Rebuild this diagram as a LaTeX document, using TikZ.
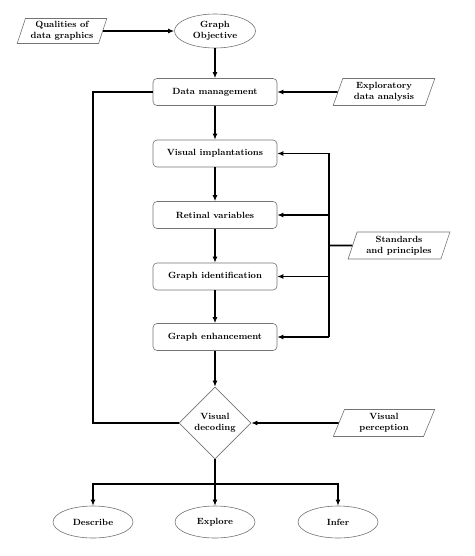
\documentclass[tikz,border=0pt]{standalone}
\usetikzlibrary{shapes.geometric,arrows.meta}
\begin{document}
\begin{tikzpicture}[x=1pt,y=-1pt,
  font=\small\bfseries,
  box/.style={draw=black!55,line width=0.6pt,rounded corners=4pt,minimum width=124pt,minimum height=27pt,align=center},
  para/.style={draw=black!55,line width=0.6pt,trapezium,trapezium left angle=71,trapezium right angle=109,trapezium stretches=true,minimum width=102pt,minimum height=27pt,inner sep=1pt,align=center},
  ell/.style={draw=black!55,line width=0.6pt,ellipse,minimum width=80pt,minimum height=32pt,inner sep=0pt,align=center},
  dia/.style={draw=black!55,line width=0.6pt,diamond,aspect=1,minimum width=72pt,minimum height=72pt,inner sep=0pt,align=center},
  conn/.style={line width=1.9pt},
  arr/.style={line width=1.9pt,-{Latex[length=6pt,width=5pt]}}]
\useasboundingbox (0,0) rectangle (474,556);
\node[para,minimum width=90pt,minimum height=25pt] (qd) at (62,31) {Qualities of\\data graphics};
\node[ell,minimum width=81pt,minimum height=34pt] (go) at (215,31) {Graph\\Objective};
\node[box] (dm) at (215,92) {Data management};
\node[para] (eda) at (384,92) {Exploratory\\data analysis};
\node[box] (vi) at (215,153.5) {Visual implantations};
\node[box] (rv) at (215,215) {Retinal variables};
\node[box] (gi) at (215,276.5) {Graph identification};
\node[box] (ge) at (215,337) {Graph enhancement};
\node[para] (sp) at (399,245.5) {Standards\\and principles};
\node[dia] (vd) at (215,423) {Visual\\decoding};
\node[para] (vp) at (384,423) {Visual\\perception};
\node[ell] (de) at (93,522) {Describe};
\node[ell] (ex) at (215,522) {Explore};
\node[ell] (in) at (338,522) {Infer};
\coordinate (bus) at (329,245.5);
\coordinate (lft) at (93,92);
\coordinate (split) at (215,484);
% top
\draw[arr] (qd) -- (go);
\draw[arr] (go) -- (dm);
\draw[arr] (eda) -- (dm);
\draw[arr] (dm) -- (vi);
\draw[arr] (vi) -- (rv);
\draw[arr] (rv) -- (gi);
\draw[arr] (gi) -- (ge);
\draw[arr] (ge) -- (vd);
% standards bus
\draw[conn] (sp.west) -- (bus);
\draw[conn] (vi.east -| bus) -- (ge.east -| bus);
\draw[arr] (vi.east -| bus) -- (vi.east);
\draw[arr] (rv.east -| bus) -- (rv.east);
\draw[arr] (gi.east -| bus) -- (gi.east);
\draw[arr] (ge.east -| bus) -- (ge.east);
% loop
\draw[conn,line join=miter] (dm.west) -- (lft) |- (vd.west);
\draw[arr] (vp) -- (vd);
% bottom
\draw[conn] (vd.south) -- (split);
\draw[arr,line join=miter] (split) -| (de.north);
\draw[arr,line join=miter] (split) -| (in.north);
\draw[arr] (split) -- (ex.north);
\end{tikzpicture}
\end{document}
